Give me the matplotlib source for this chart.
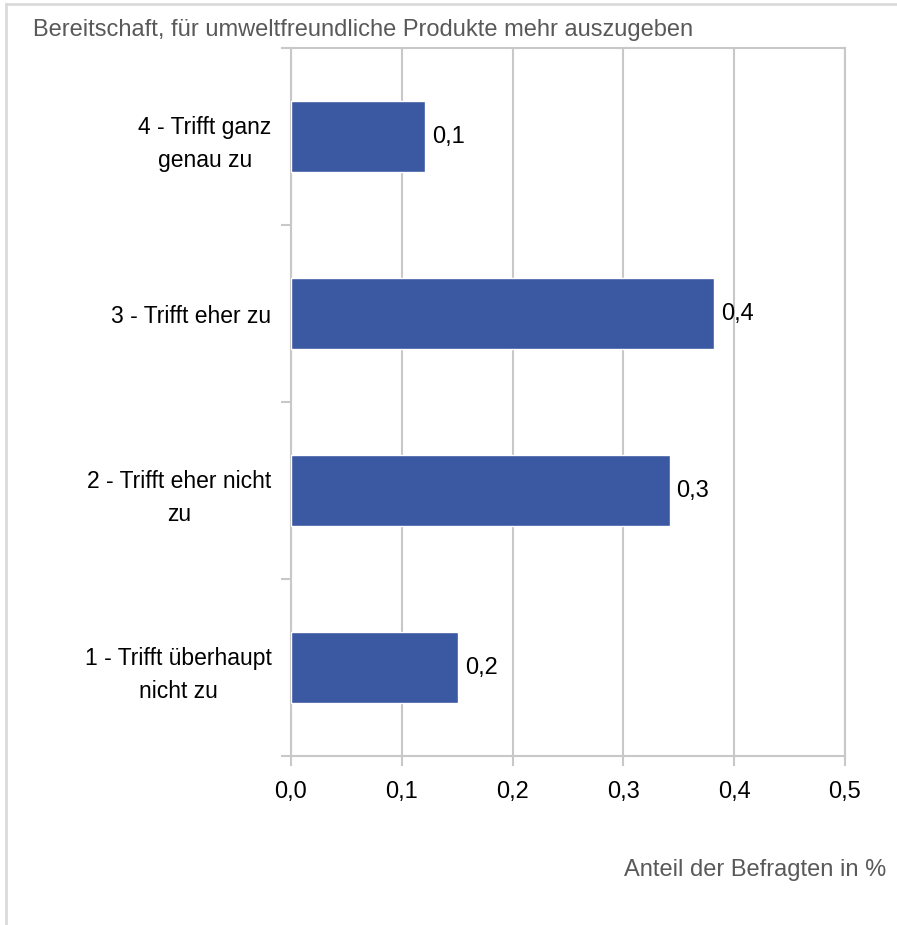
import matplotlib
matplotlib.use("Agg")
import matplotlib.pyplot as plt
from matplotlib.lines import Line2D

plt.rcParams["font.family"] = ["Liberation Sans", "DejaVu Sans"]

TITLE = "Bereitschaft, für umweltfreundliche Produkte mehr auszugeben"
X_LABEL = "Anteil der Befragten in %"
CATEGORIES = ["1 - Trifft überhaupt\nnicht zu", "2 - Trifft eher nicht\nzu",
              "3 - Trifft eher zu", "4 - Trifft ganz\ngenau zu"]
VALUES = [0.151, 0.342, 0.382, 0.121]
X_TICKS = [0.0, 0.1, 0.2, 0.3, 0.4, 0.5]
X_TICK_LABELS = ["0,0", "0,1", "0,2", "0,3", "0,4", "0,5"]

BAR_COLOR = "#3B58A2"
GRID_COLOR = "#C8C8C8"
TEXT_GRAY = "#595959"
FS = 17


def main() -> None:
    fig = plt.figure(figsize=(8.97, 9.25), dpi=100)
    ax = fig.add_axes([0.3244, 0.1827, 0.6176, 0.7654])

    pos = list(range(len(CATEGORIES)))
    ax.barh(pos, VALUES, height=0.4, color=BAR_COLOR, edgecolor="white",
            linewidth=1.0, zorder=3)
    for p, v in zip(pos, VALUES):
        ax.text(v + 0.006, p, f"{v:.1f}".replace(".", ","), va="center", ha="left",
                fontsize=FS, color="black")

    ax.set_xlim(0, 0.5)
    ax.set_ylim(-0.5, len(CATEGORIES) - 0.5)
    ax.set_xticks(X_TICKS)
    ax.set_xticklabels(X_TICK_LABELS, fontsize=FS, color="black")
    ax.set_yticks(pos)
    ax.set_yticklabels(CATEGORIES, fontsize=16.5, color="black", ha="right",
                       multialignment="center", linespacing=1.55)
    ax.set_yticks([p - 0.5 for p in pos] + [len(CATEGORIES) - 0.5], minor=True)
    ax.tick_params(axis="y", which="major", length=0, pad=14)
    ax.tick_params(axis="y", which="minor", length=7, width=1.5, color=GRID_COLOR)
    ax.tick_params(axis="x", length=7, width=1.5, color=GRID_COLOR, pad=11)

    ax.grid(axis="x", color=GRID_COLOR, linewidth=1.5, zorder=0)
    ax.set_axisbelow(True)
    for s in ax.spines.values():
        s.set_color(GRID_COLOR)
        s.set_linewidth(1.5)

    fig.text(0.037, 0.968, TITLE, fontsize=FS, color=TEXT_GRAY, ha="left", va="center")
    fig.text(0.988, 0.059, X_LABEL, fontsize=FS, color=TEXT_GRAY,
             ha="right", va="center")

    # light frame around the chart (top and left edge visible)
    fig.add_artist(Line2D([0.007, 1.0], [0.996, 0.996], color="#DADADA", linewidth=2))
    fig.add_artist(Line2D([0.007, 0.007], [0.0, 0.996], color="#DADADA", linewidth=2))

    fig.savefig("out.png", dpi=100)
    plt.close(fig)


if __name__ == "__main__":
    main()
